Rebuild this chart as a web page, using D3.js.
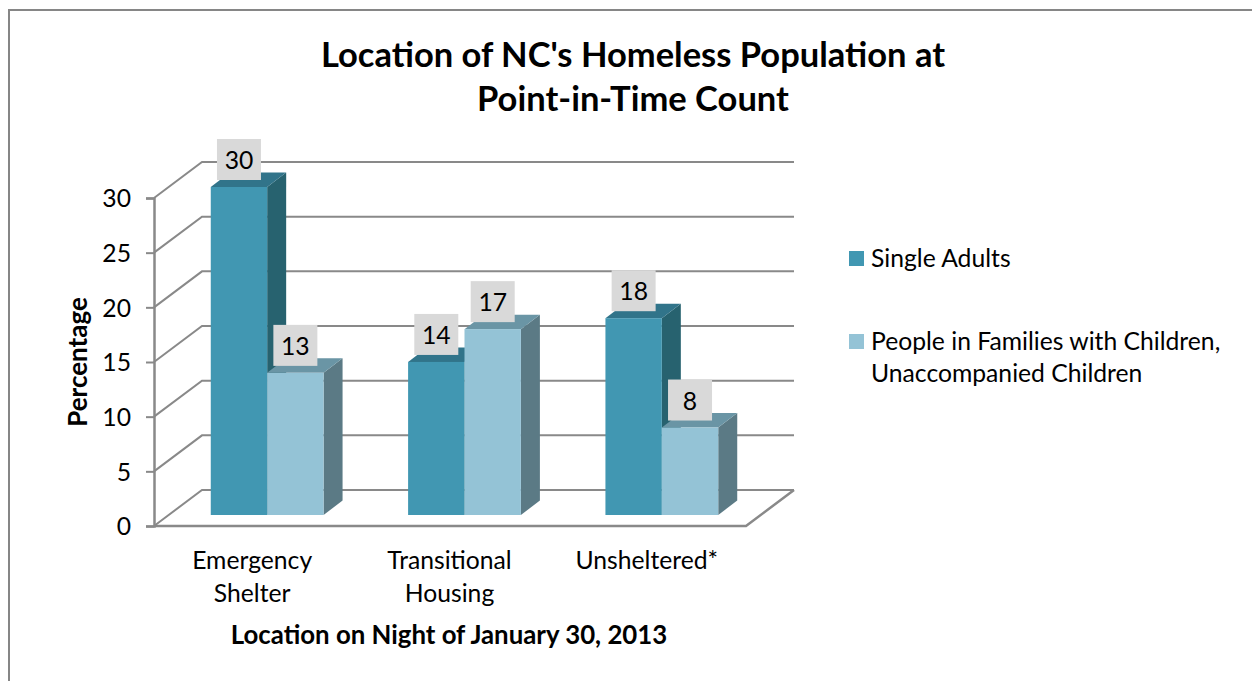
<!DOCTYPE html>
<html>
<head>
<meta charset="utf-8">
<script src="https://cdn.jsdelivr.net/npm/d3@7"></script>
<style>
  html, body { margin: 0; padding: 0; background: #fff; }
  svg { display: block; font-family: Lato, sans-serif; }
</style>
</head>
<body>
<div id="container"></div>
<script>
// data we work with
const categories = [["Emergency", "Shelter"], ["Transitional", "Housing"], ["Unsheltered*"]];
const seriesNames = ["Single Adults", "People in Families with Children,"];
const singleAdults = [30, 14, 18];
const families = [13, 17, 8];
const yTicks = [0, 5, 10, 15, 20, 25, 30];

const w = 1252;
const h = 681;

const viz = d3.select("#container").append("svg")
    .attr("width", w)
    .attr("height", h);

// outer frame, only the top and left show in the picture
viz.append("path")
    .attr("d", "M9,681V10H1252")
    .attr("fill", "none")
    .attr("stroke", "#868686")
    .attr("stroke-width", 2);

// front plane of the 3d box
const left = 154;
const right = 746;
const base = 526;
const depthX = 48;
const depthY = 36;
const barDepthX = 19;
const barDepthY = 14.5;
const barShiftX = 14.5;
const barShiftY = 11;

const yScale = d3.scaleLinear().domain([0, 30]).range([base, 198]);
const xScale = d3.scaleBand().domain(d3.range(categories.length)).range([left, right]);
const barWidth = 56.4;
const barGap = (xScale.bandwidth() - 2 * barWidth) / 2;

const gridColor = "#898989";

// gridlines on the back wall and side wall
yTicks.forEach(function(t){
  const y = yScale(t);
  viz.append("path")
      .attr("d", `M${left},${y}L${left + depthX},${y - depthY}H${right + depthX}`)
      .attr("fill", "none")
      .attr("stroke", gridColor)
      .attr("stroke-width", 2);
});

// floor
viz.append("path")
    .attr("d", `M${left},${base}H${right}L${right + depthX},${base - depthY}`)
    .attr("fill", "none")
    .attr("stroke", gridColor)
    .attr("stroke-width", 2.5);

// y axis
const yAxis = d3.axisLeft(yScale).tickValues(yTicks).tickSize(8).tickPadding(15);
const yAxisG = viz.append("g")
    .attr("transform", `translate(${left},0)`)
    .call(yAxis);
yAxisG.selectAll("line").attr("stroke", gridColor).attr("stroke-width", 2);
yAxisG.select(".domain").attr("stroke", gridColor).attr("stroke-width", 2.5);
yAxisG.selectAll("text").attr("font-size", 24.7).attr("font-family", "Lato").attr("fill", "#000").attr("y", 1);

const colors = [
  { front: "#4197b2", top: "#31748a", side: "#27626f" },
  { front: "#94c3d6", top: "#6a95a5", side: "#5b7a85" }
];

function drawBar(i, s, value){
  const x0 = xScale(i) + barShiftX + barGap + s * barWidth;
  const x1 = x0 + barWidth;
  const y0 = yScale(0) - barShiftY;
  const y1 = yScale(value) - barShiftY;
  const c = colors[s];
  viz.append("path")
      .attr("d", `M${x1},${y0}L${x1 + barDepthX},${y0 - barDepthY}V${y1 - barDepthY}L${x1},${y1}Z`)
      .attr("fill", c.side);
  viz.append("path")
      .attr("d", `M${x0},${y1}L${x0 + barDepthX},${y1 - barDepthY}H${x1 + barDepthX}L${x1},${y1}Z`)
      .attr("fill", c.top);
  viz.append("rect")
      .attr("x", x0)
      .attr("y", y1)
      .attr("width", barWidth)
      .attr("height", y0 - y1)
      .attr("fill", c.front);
}

function drawLabel(i, s, value){
  const cx = xScale(i) + barShiftX + barGap + s * barWidth + barWidth / 2;
  const yTop = yScale(value) - barShiftY;
  viz.append("rect")
      .attr("x", cx - 22)
      .attr("y", yTop - 48)
      .attr("width", 44)
      .attr("height", 41)
      .attr("fill", "#d9d9d9");
  viz.append("text")
      .attr("x", cx)
      .attr("y", yTop - 18)
      .attr("text-anchor", "middle")
      .attr("font-size", 24.7)
      .attr("fill", "#000")
      .text(value);
}

categories.forEach(function(c, i){
  drawBar(i, 0, singleAdults[i]);
  drawBar(i, 1, families[i]);
});
categories.forEach(function(c, i){
  drawLabel(i, 0, singleAdults[i]);
  drawLabel(i, 1, families[i]);
});

// category labels
categories.forEach(function(lines, i){
  const cx = xScale(i) + xScale.bandwidth() / 2 - 0.5;
  lines.forEach(function(line, k){
    viz.append("text")
        .attr("x", cx)
        .attr("y", 569 + k * 33)
        .attr("text-anchor", "middle")
        .attr("font-size", 24.7)
        .attr("fill", "#000")
        .text(line);
  });
});

// titles
viz.append("text").attr("x", 633).attr("y", 67).attr("text-anchor", "middle")
    .attr("font-size", 34.5).attr("font-weight", "bold").text("Location of NC's Homeless Population at");
viz.append("text").attr("x", 633).attr("y", 111).attr("text-anchor", "middle")
    .attr("font-size", 34.5).attr("font-weight", "bold").text("Point-in-Time Count");
viz.append("text").attr("x", 449).attr("y", 644).attr("text-anchor", "middle")
    .attr("font-size", 25.8).attr("font-weight", "bold").text("Location on Night of January 30, 2013");
viz.append("text").attr("transform", "translate(87,362) rotate(-90)").attr("text-anchor", "middle")
    .attr("font-size", 26).attr("font-weight", "bold").text("Percentage");

// legend
viz.append("rect").attr("x", 849).attr("y", 251).attr("width", 15).attr("height", 15).attr("fill", colors[0].front);
viz.append("rect").attr("x", 849).attr("y", 334).attr("width", 15).attr("height", 15).attr("fill", colors[1].front);
viz.append("text").attr("x", 871).attr("y", 267).attr("font-size", 24.7).text(seriesNames[0]);
viz.append("text").attr("x", 871).attr("y", 350).attr("font-size", 24.7).text(seriesNames[1]);
viz.append("text").attr("x", 871).attr("y", 382).attr("font-size", 24.7).text("Unaccompanied Children");
</script>
</body>
</html>
